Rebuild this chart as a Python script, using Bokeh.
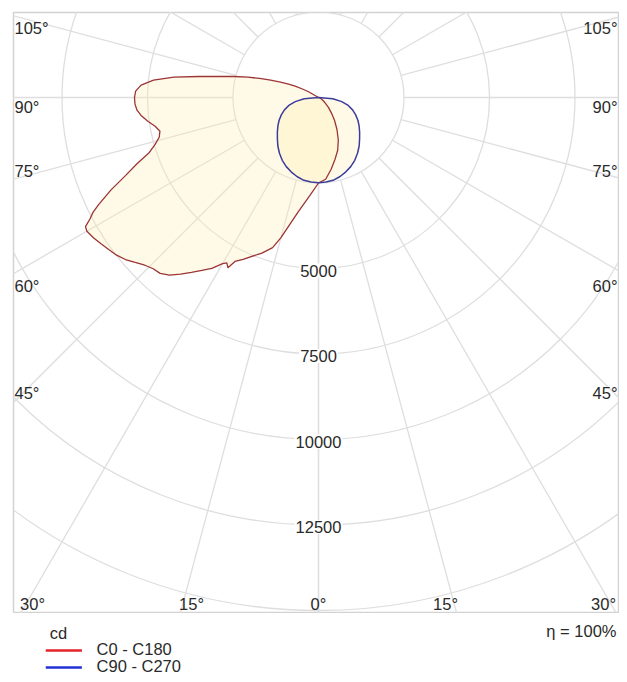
import math
from bokeh.plotting import figure
from bokeh.layouts import column
from bokeh.models import Range1d
from bokeh.core.properties import value
from bokeh.embed import file_html
from bokeh.resources import INLINE

# ---------------- data (cd) ----------------
# C0 side (right half of the C0 - C180 plane)
c0_angles = [0, 5, 10, 15, 20, 25, 30, 35, 40, 45, 50, 55, 60, 70, 80, 90]
c0_cd = [2500, 2400, 2130, 1870, 1640, 1370, 1080, 820, 585, 410, 265, 180, 120, 60, 30, 0]

# C180 side (left half of the C0 - C180 plane)
c180_angles = [0, 5, 10, 15, 17, 20, 25, 27, 28, 29, 30, 32, 34, 36, 38, 40, 42, 44,
               46, 48, 50, 52, 54, 56, 58, 60, 61, 62, 63, 64, 66, 68, 70, 72, 74,
               76, 78, 80, 82, 84, 86, 88, 90, 92, 94, 96, 98, 100, 102, 104, 106,
               108, 110, 112, 114, 116, 118, 120, 125]
c180_cd = [2500, 2870, 3390, 4240, 4590, 4840, 5220, 5380, 5640, 5530, 5610, 5890,
           6100, 6320, 6550, 6780, 6920, 6960, 7060, 7210, 7370, 7490, 7570, 7660,
           7750, 7820, 7790, 7570, 7400, 7160, 6640, 6080, 5640, 5200, 4970, 4800,
           4740, 4850, 5030, 5200, 5320, 5370, 5380, 5350, 5200, 4850, 4270, 3540,
           2950, 2540, 2160, 1810, 1490, 1200, 960, 760, 530, 320, 0]

# C90 - C270 plane (symmetric)
c90_angles = [0, 5, 10, 15, 20, 25, 30, 35, 40, 45, 50, 55, 60, 65, 70, 75, 80, 85, 90]
c90_cd = [2490, 2480, 2460, 2400, 2320, 2230, 2120, 1990, 1850, 1700, 1570, 1450,
          1330, 1200, 1060, 900, 690, 420, 0]

ring_values = [2500, 5000, 7500, 10000, 12500, 15000, 17500]
ring_labels = ["", "5000", "7500", "10000", "12500", "", ""]
radial_angles = [0, 15, 30, 45, 60, 75, 90, 105, 120, 135, 150, 165, 180]
side_labels = ["105°", "90°", "75°", "60°", "45°"]
bottom_labels = ["30°", "15°", "0°", "15°", "30°"]
series_names = ["C0 - C180", "C90 - C270"]
unit_label = "cd"
efficiency_label = "η = 100%"

# ---------------- layout / style ----------------
FONT = value("Liberation Sans")
FS = "16.5px"
TXT = "#2a2a2a"
GRID = "#dedede"
S = 2500 / 85.5          # cd per pixel
CX, CY = 318, 97         # pole (figure px)
FL, FT, FR, FB = 13, 12, 618, 613   # frame (figure px)
W = 619


def px(xp):
    return (xp - CX) * S


def py(yp):
    return (CY - yp) * S


p = figure(frame_width=FR - FL, frame_height=FB - FT,
           min_border_left=FL, min_border_top=FT,
           min_border_right=W - FR, min_border_bottom=0,
           x_range=Range1d(px(FL), px(FR)), y_range=Range1d(py(FB), py(FT)),
           x_axis_location=None, y_axis_location=None,
           output_backend="svg", toolbar_location=None)
p.grid.visible = False
p.outline_line_color = "#d2d2d2"
p.outline_line_width = 1.5
p.background_fill_color = "white"
p.border_fill_color = "white"

# rings
p.circle(x=[0] * len(ring_values), y=[0] * len(ring_values), radius=ring_values,
         fill_color=None, line_color=GRID, line_width=1.3)

# radial lines (from first ring outwards)
R0, R1 = ring_values[0], 40000
x0, y0, x1, y1 = [], [], [], []
for side in (-1, 1):
    for a in radial_angles:
        r = math.radians(a)
        x0.append(side * R0 * math.sin(r)); y0.append(-R0 * math.cos(r))
        x1.append(side * R1 * math.sin(r)); y1.append(-R1 * math.cos(r))
p.segment(x0, y0, x1, y1, line_color=GRID, line_width=1.3)


def polar(angles, vals, side):
    xs = [side * v * math.sin(math.radians(a)) for a, v in zip(angles, vals)]
    ys = [-v * math.cos(math.radians(a)) for a, v in zip(angles, vals)]
    return xs, ys


# C0 - C180 curve
xa, ya = polar(c0_angles, c0_cd, 1)
xb, yb = polar(c180_angles, c180_cd, -1)
red_x = xa[::-1] + xb
red_y = ya[::-1] + yb
# C90 - C270 curve
xc, yc = polar(c90_angles, c90_cd, 1)
xd, yd = polar(c90_angles, c90_cd, -1)
blue_x = xc[::-1] + xd
blue_y = yc[::-1] + yd

FILL = "#fff0b0"
p.patch(red_x, red_y, fill_color=FILL, fill_alpha=0.3, line_color=None)
p.patch(blue_x, blue_y, fill_color=FILL, fill_alpha=0.3, line_color=None)
p.line(red_x, red_y, line_color="#9c3434", line_width=1.3)
p.line(blue_x, blue_y, line_color="#3c3c9c", line_width=1.5)

# ring value labels
lab_v = [v for v, t in zip(ring_values, ring_labels) if t]
lab_t = [t for t in ring_labels if t]
p.text(x=[0] * len(lab_v), y=[-v - 2 * S for v in lab_v], text=lab_t,
       text_align="center", text_baseline="middle", text_font=FONT,
       text_font_size=FS, text_color=TXT, background_fill_color="white",
       padding=1)

# side angle labels
side_py = [27, 106, 170, 285, 392]
p.text(x=[px(FL + 1)] * len(side_labels), y=[py(v) for v in side_py], text=side_labels,
       text_align="left", text_baseline="middle", text_font=FONT,
       text_font_size=FS, text_color=TXT)
p.text(x=[px(FR - 1)] * len(side_labels), y=[py(v) for v in side_py], text=side_labels,
       text_align="right", text_baseline="middle", text_font=FONT,
       text_font_size=FS, text_color=TXT)
# bottom angle labels
bottom_px = [32, 191, 318, 445, 603]
p.text(x=[px(v) for v in bottom_px], y=[py(603)] * len(bottom_labels), text=bottom_labels,
       text_align="center", text_baseline="middle", text_font=FONT,
       text_font_size=FS, text_color=TXT)

# ---------------- legend strip ----------------
H2 = 61
q = figure(width=W, height=H2, x_range=Range1d(0, W), y_range=Range1d(H2, 0),
           x_axis_location=None, y_axis_location=None, min_border=0,
           output_backend="svg", toolbar_location=None)
q.grid.visible = False
q.outline_line_color = None
q.background_fill_color = "white"
q.border_fill_color = "white"

q.text(x=[46], y=[19], text=[unit_label], text_align="center", text_baseline="middle",
       text_font=FONT, text_font_size=FS, text_color=TXT)
q.text(x=[W - 2], y=[17], text=[efficiency_label], text_align="right", text_baseline="middle",
       text_font=FONT, text_font_size=FS, text_color=TXT)
legend_colors = ["#e3242b", "#2232d6"]
leg_y = [37, 54]
q.segment(x0=[33, 33], y0=leg_y, x1=[70, 70], y1=leg_y, line_color=legend_colors, line_width=2.5)
q.text(x=[85, 85], y=[y - 1.5 for y in leg_y], text=series_names, text_align="left",
       text_baseline="middle", text_font=FONT, text_font_size=FS, text_color=TXT)

layout = column(p, q, spacing=0)
open("out.html", "w").write(file_html(layout, INLINE))
